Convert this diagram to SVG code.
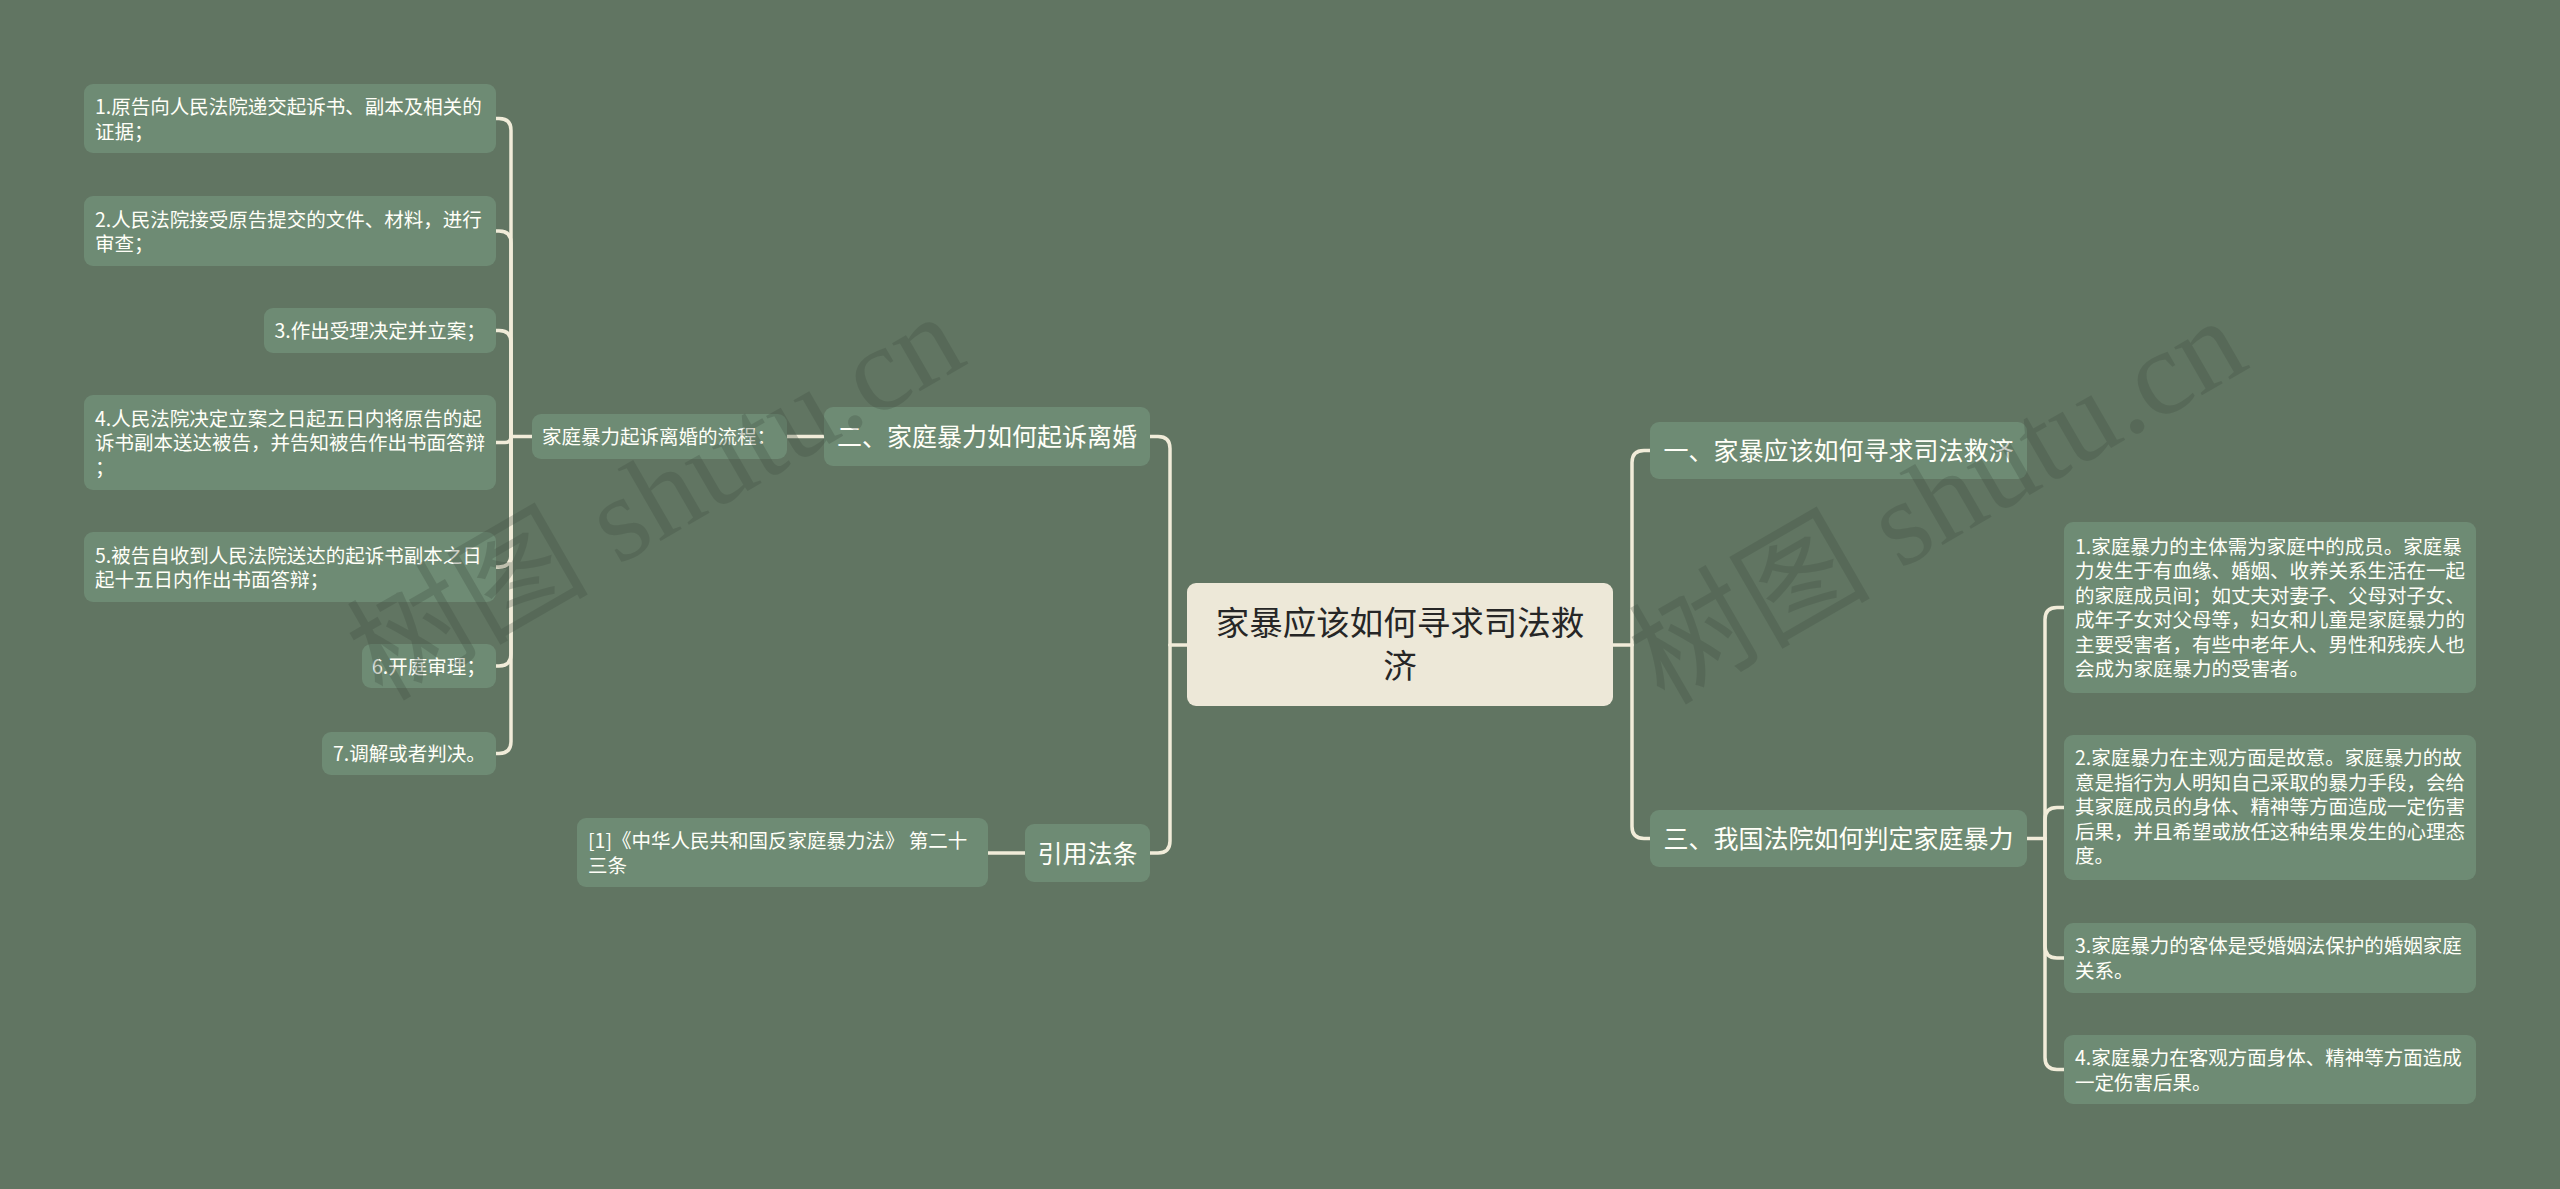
<svg xmlns="http://www.w3.org/2000/svg" width="2560" height="1189" viewBox="0 0 2560 1189">
<style>
.bg{fill:#617562}
.n{fill:#6E8B74}
.c{fill:#EDE8D8}
.t{font-family:"Noto Sans CJK SC","Noto Sans",sans-serif;fill:#FFFFF8}
.s{font-size:19.5px}
.m{font-size:25px;text-anchor:middle}
.ct{font-family:"Noto Sans CJK SC","Noto Sans",sans-serif;font-size:33.5px;fill:#262626;text-anchor:middle}
.l{fill:none;stroke:#F1ECD9;stroke-width:3.5;stroke-linecap:round;stroke-linejoin:round}
.w{font-family:"Liberation Serif","Noto Sans CJK SC",serif;font-size:121px;fill:#3f4d40;opacity:0.28}
</style>
<rect class="bg" x="0" y="0" width="2560" height="1189"/>
<g id="connectors">
<path class="l" d="M1187 645 H1170"/>
<path class="l" d="M1170 645 V448.5 Q1170 436.5 1158 436.5 H1150"/>
<path class="l" d="M1170 645 V841 Q1170 853 1158 853 H1150"/>
<path class="l" d="M1613 645 H1632"/>
<path class="l" d="M1632 645 V462.5 Q1632 450.5 1644 450.5 H1650"/>
<path class="l" d="M1632 645 V826.5 Q1632 838.5 1644 838.5 H1650"/>
<path class="l" d="M824 436.5 H787"/>
<path class="l" d="M1025 853 H988"/>
<path class="l" d="M532 436.5 H511"/>
<path class="l" d="M511 436.5 V130.5 Q511 118.5 499 118.5 H496"/>
<path class="l" d="M511 436.5 V243 Q511 231 499 231 H496"/>
<path class="l" d="M511 436.5 V342.5 Q511 330.5 499 330.5 H496"/>
<path class="l" d="M511 436.5 Q511 442.5 505 442.5 H496"/>
<path class="l" d="M511 436.5 V555 Q511 567 499 567 H496"/>
<path class="l" d="M511 436.5 V654 Q511 666 499 666 H496"/>
<path class="l" d="M511 436.5 V741.5 Q511 753.5 499 753.5 H496"/>
<path class="l" d="M2027 838.5 H2045"/>
<path class="l" d="M2045 838.5 V619.5 Q2045 607.5 2057 607.5 H2064"/>
<path class="l" d="M2045 838.5 V819.5 Q2045 807.5 2057 807.5 H2064"/>
<path class="l" d="M2045 838.5 V946 Q2045 958 2057 958 H2064"/>
<path class="l" d="M2045 838.5 V1057.5 Q2045 1069.5 2057 1069.5 H2064"/>
</g>
<g id="center">
<rect class="c" x="1187" y="583" width="426" height="123" rx="9"/>
<text class="ct" x="1400" y="635">家暴应该如何寻求司法救</text>
<text class="ct" x="1400" y="678">济</text>
</g>
<g id="n-er">
<rect class="n" x="824" y="407" width="326" height="59" rx="9"/>
<text class="t m" x="987" y="446">二、家庭暴力如何起诉离婚</text>
</g>
<g id="n-yinyong">
<rect class="n" x="1025" y="824" width="125" height="58" rx="9"/>
<text class="t m" x="1087.5" y="862.5">引用法条</text>
</g>
<g id="n-yi">
<rect class="n" x="1650" y="422" width="377" height="57" rx="9"/>
<text class="t m" x="1838.5" y="460">一、家暴应该如何寻求司法救济</text>
</g>
<g id="n-san">
<rect class="n" x="1650" y="810" width="377" height="57" rx="9"/>
<text class="t m" x="1838.5" y="848">三、我国法院如何判定家庭暴力</text>
</g>
<g id="n-liucheng">
<rect class="n" x="532" y="414" width="255" height="45" rx="9"/>
<text class="t s" x="542" y="444">家庭暴力起诉离婚的流程：</text>
</g>
<g id="n-law">
<rect class="n" x="577" y="818" width="411" height="69" rx="9"/>
<text class="t s" x="588" y="848">[1]《中华人民共和国反家庭暴力法》 第二十</text>
<text class="t s" x="588" y="872.5">三条</text>
</g>
<g id="l1">
<rect class="n" x="84" y="84" width="412" height="69" rx="9"/>
<text class="t s" x="95" y="114">1.原告向人民法院递交起诉书、副本及相关的</text>
<text class="t s" x="95" y="138.5">证据；</text>
</g>
<g id="l2">
<rect class="n" x="84" y="196" width="412" height="70" rx="9"/>
<text class="t s" x="95" y="226.5">2.人民法院接受原告提交的文件、材料，进行</text>
<text class="t s" x="95" y="251">审查；</text>
</g>
<g id="l3">
<rect class="n" x="264" y="308" width="232" height="45" rx="9"/>
<text class="t s" x="274.5" y="338">3.作出受理决定并立案；</text>
</g>
<g id="l4">
<rect class="n" x="84" y="395" width="412" height="95" rx="9"/>
<text class="t s" x="95" y="425.5">4.人民法院决定立案之日起五日内将原告的起</text>
<text class="t s" x="95" y="450">诉书副本送达被告，并告知被告作出书面答辩</text>
<text class="t s" x="95" y="474.5">；</text>
</g>
<g id="l5">
<rect class="n" x="84" y="532" width="412" height="70" rx="9"/>
<text class="t s" x="95" y="562.5">5.被告自收到人民法院送达的起诉书副本之日</text>
<text class="t s" x="95" y="587">起十五日内作出书面答辩；</text>
</g>
<g id="l6">
<rect class="n" x="362" y="644" width="134" height="44" rx="9"/>
<text class="t s" x="372" y="673.5">6.开庭审理；</text>
</g>
<g id="l7">
<rect class="n" x="322" y="732" width="174" height="43" rx="9"/>
<text class="t s" x="333" y="761">7.调解或者判决。</text>
</g>
<g id="r1">
<rect class="n" x="2064" y="522" width="412" height="171" rx="9"/>
<text class="t s" x="2075" y="553.5">1.家庭暴力的主体需为家庭中的成员。家庭暴</text>
<text class="t s" x="2075" y="578">力发生于有血缘、婚姻、收养关系生活在一起</text>
<text class="t s" x="2075" y="602.5">的家庭成员间；如丈夫对妻子、父母对子女、</text>
<text class="t s" x="2075" y="627">成年子女对父母等，妇女和儿童是家庭暴力的</text>
<text class="t s" x="2075" y="651.5">主要受害者，有些中老年人、男性和残疾人也</text>
<text class="t s" x="2075" y="676">会成为家庭暴力的受害者。</text>
</g>
<g id="r2">
<rect class="n" x="2064" y="735" width="412" height="145" rx="9"/>
<text class="t s" x="2075" y="765">2.家庭暴力在主观方面是故意。家庭暴力的故</text>
<text class="t s" x="2075" y="789.5">意是指行为人明知自己采取的暴力手段，会给</text>
<text class="t s" x="2075" y="814">其家庭成员的身体、精神等方面造成一定伤害</text>
<text class="t s" x="2075" y="838.5">后果，并且希望或放任这种结果发生的心理态</text>
<text class="t s" x="2075" y="863">度。</text>
</g>
<g id="r3">
<rect class="n" x="2064" y="923" width="412" height="70" rx="9"/>
<text class="t s" x="2075" y="953">3.家庭暴力的客体是受婚姻法保护的婚姻家庭</text>
<text class="t s" x="2075" y="977.5">关系。</text>
</g>
<g id="r4">
<rect class="n" x="2064" y="1035" width="412" height="69" rx="9"/>
<text class="t s" x="2075" y="1065">4.家庭暴力在客观方面身体、精神等方面造成</text>
<text class="t s" x="2075" y="1089.5">一定伤害后果。</text>
</g>
<g id="watermarks">
<text class="w" transform="translate(382,702) rotate(-30)">树图 shutu.cn</text>
<text class="w" transform="translate(1664,706) rotate(-30)">树图 shutu.cn</text>
</g>
</svg>
